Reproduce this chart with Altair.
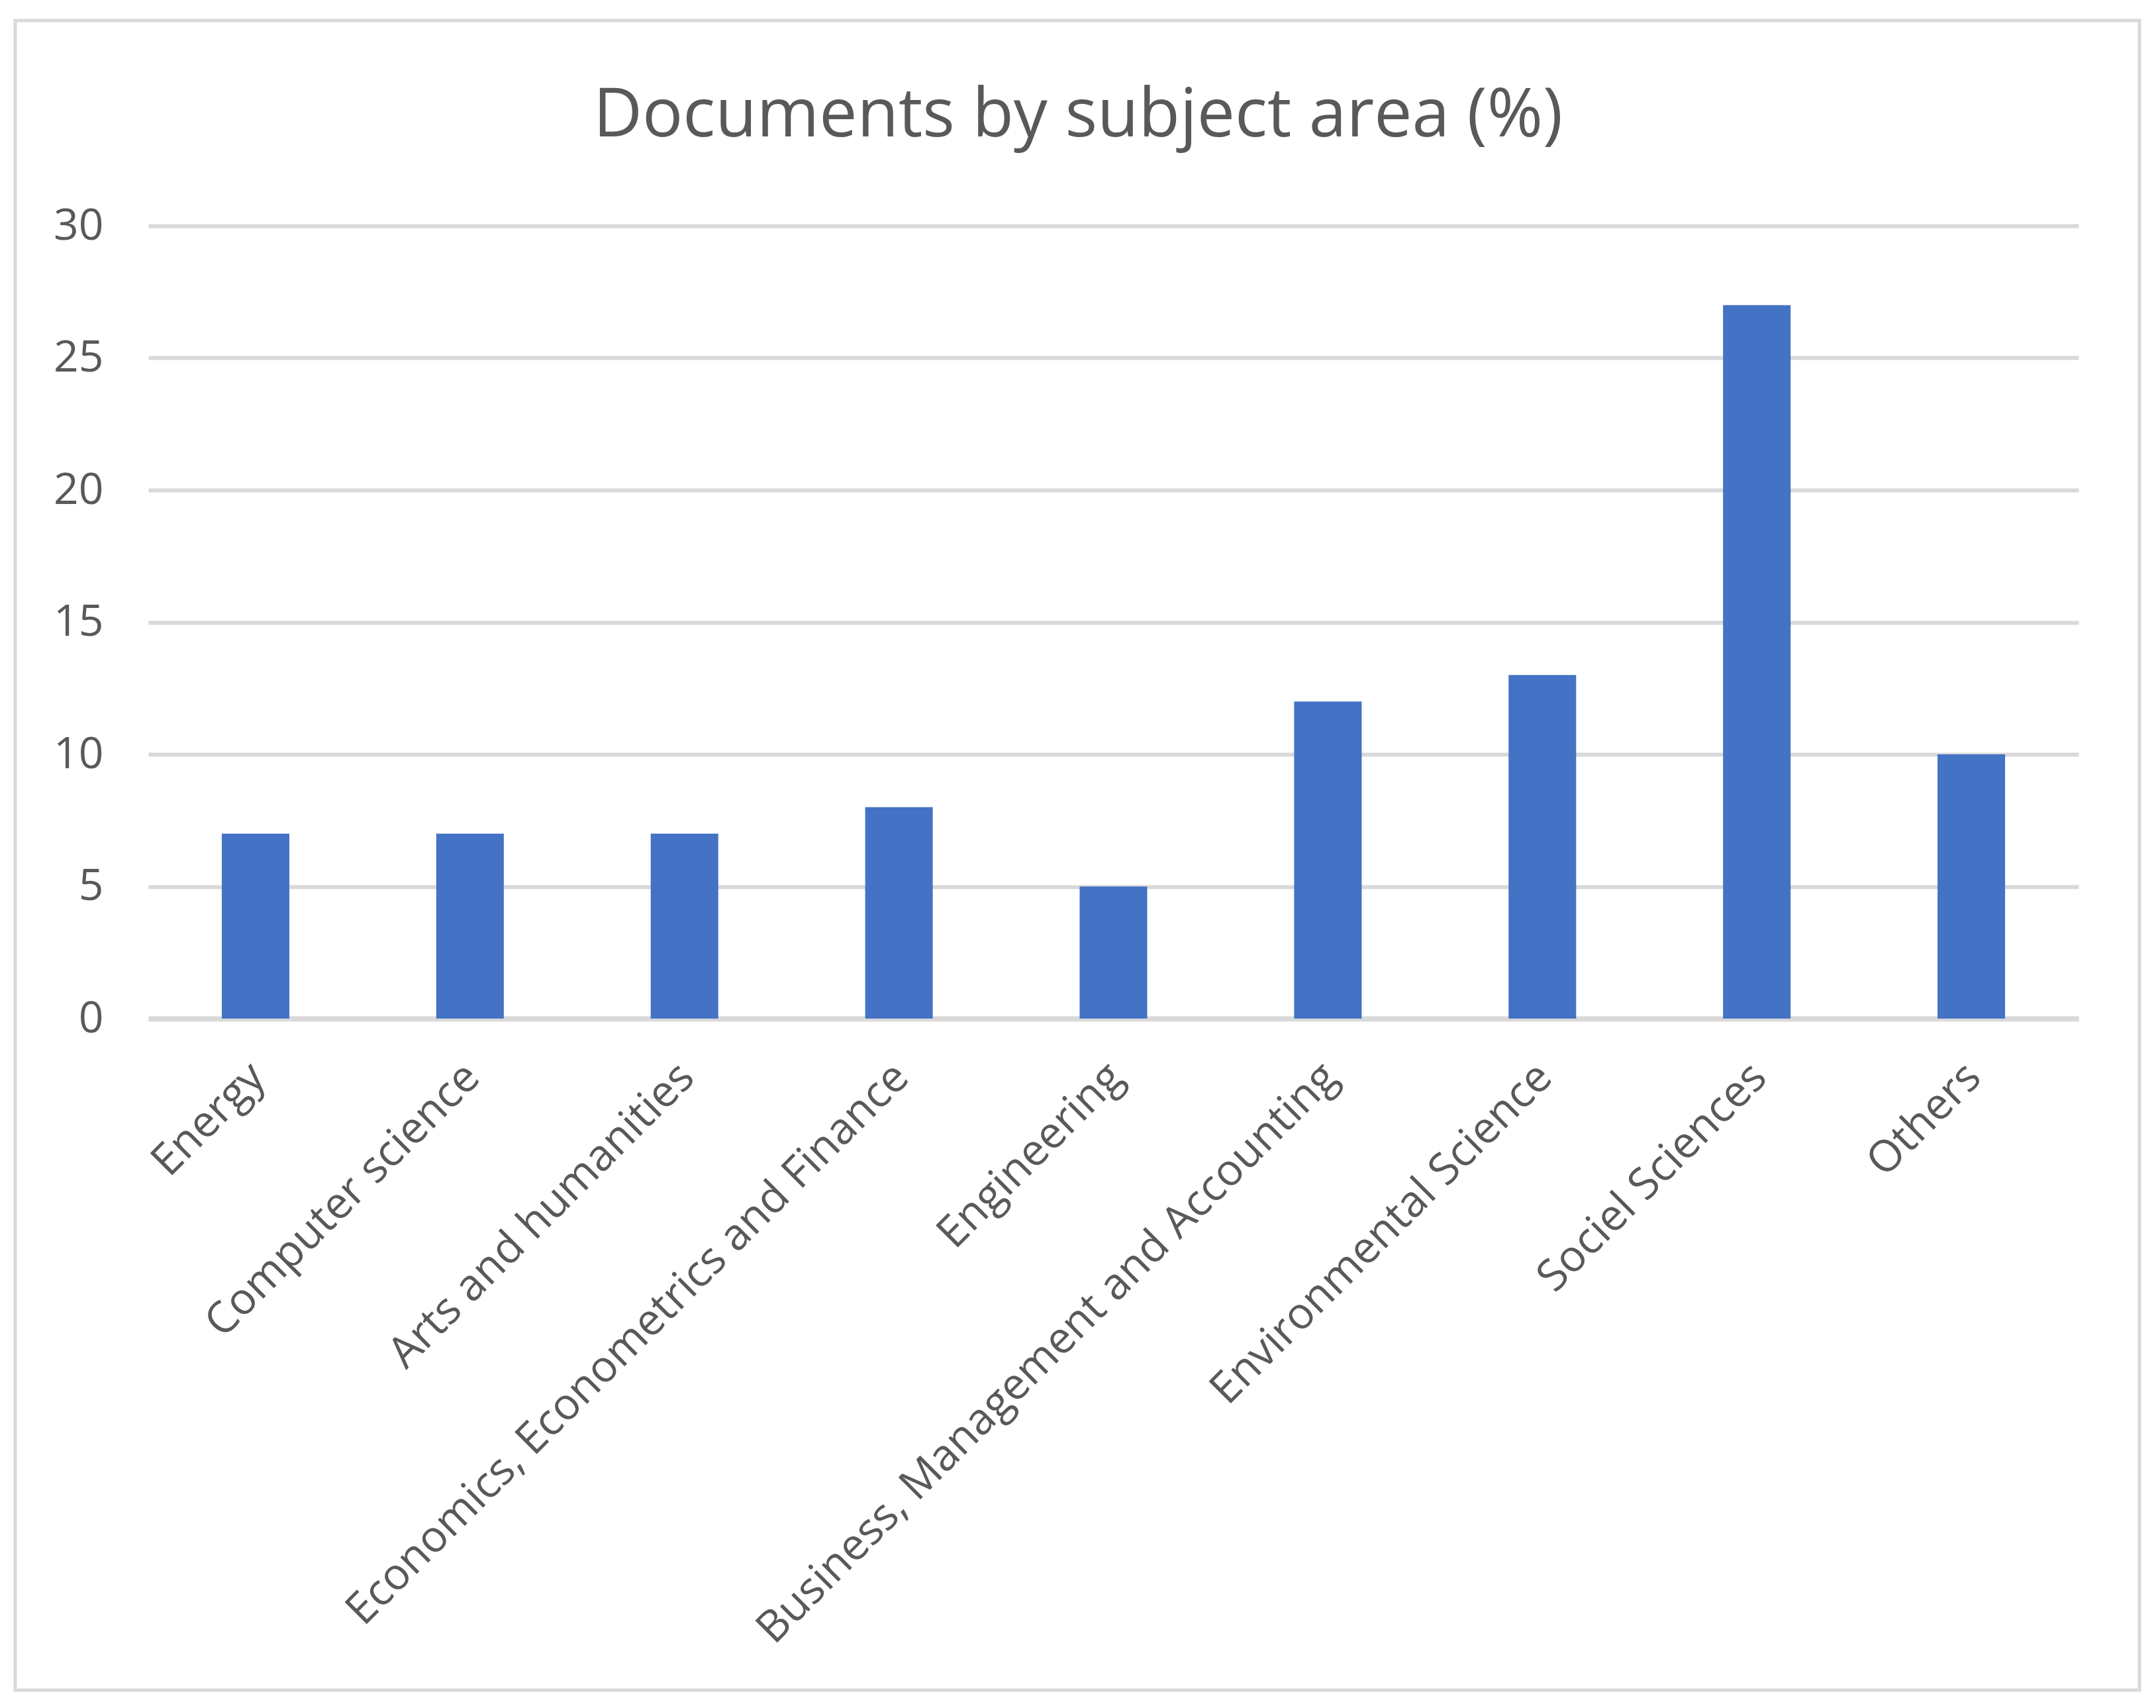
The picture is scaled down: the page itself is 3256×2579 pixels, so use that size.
import altair as alt
import pandas as pd

categories = [
    "Energy",
    "Computer science",
    "Arts and humanities",
    "Economics, Econometrics and Finance",
    "Engineering",
    "Business, Management and Accounting",
    "Environmental Science",
    "Sociel Sciences",
    "Others",
]
values = [7, 7, 7, 8, 5, 12, 13, 27, 10]
y_ticks = [0, 5, 10, 15, 20, 25, 30]
title_text = "Documents by subject area (%)"

df = pd.DataFrame({"category": categories, "value": values})

FONT = "Open Sans"
TEXT = "#595959"
GRID = "#D9D9D9"
BAR = "#4472C4"

bars = alt.Chart(df).mark_bar(color=BAR).encode(
    x=alt.X(
        "category:N",
        sort=categories,
        title=None,
        scale=alt.Scale(paddingInner=0.685, paddingOuter=0.3425),
        axis=alt.Axis(
            labelAngle=-45,
            labelAlign="right",
            labelBaseline="alphabetic",
            labelFontSize=66,
            labelColor=TEXT,
            labelFont=FONT,
            labelPadding=92,
            labelOffset=18,
            labelLimit=3000,
            ticks=False,
            tickSize=0,
            domain=True,
            domainColor=GRID,
            domainWidth=8,
            grid=False,
        ),
    ),
    y=alt.Y(
        "value:Q",
        title=None,
        scale=alt.Scale(domain=[0, 30], nice=False),
        axis=alt.Axis(
            values=y_ticks,
            labelFontSize=66,
            labelColor=TEXT,
            labelFont=FONT,
            labelPadding=68,
            ticks=False,
            tickSize=0,
            domain=False,
            grid=True,
            gridColor=GRID,
            gridWidth=6,
        ),
    ),
)

frame = alt.Chart(alt.Data(values=[{"k": 1}])).mark_rect(
    filled=False, stroke=GRID, strokeWidth=5
).encode(
    x=alt.value(-201),
    x2=alt.value(3007),
    y=alt.value(-310),
    y2=alt.value(2211),
)

title = alt.Chart(alt.Data(values=[{"t": title_text}])).mark_text(
    font=FONT,
    fontSize=102,
    color=TEXT,
    align="center",
    baseline="alphabetic",
).encode(
    text="t:N",
    x=alt.value(1404),
    y=alt.value(-135),
)

chart = alt.layer(frame, title, bars).properties(
    width=2915,
    height=1197,
    padding={"left": 216, "top": 333, "right": 100, "bottom": 1020},
    autosize=alt.AutoSizeParams(type="none"),
).configure_view(stroke=None)

chart.save("out.html", embed_options={"renderer": "svg", "actions": False})
